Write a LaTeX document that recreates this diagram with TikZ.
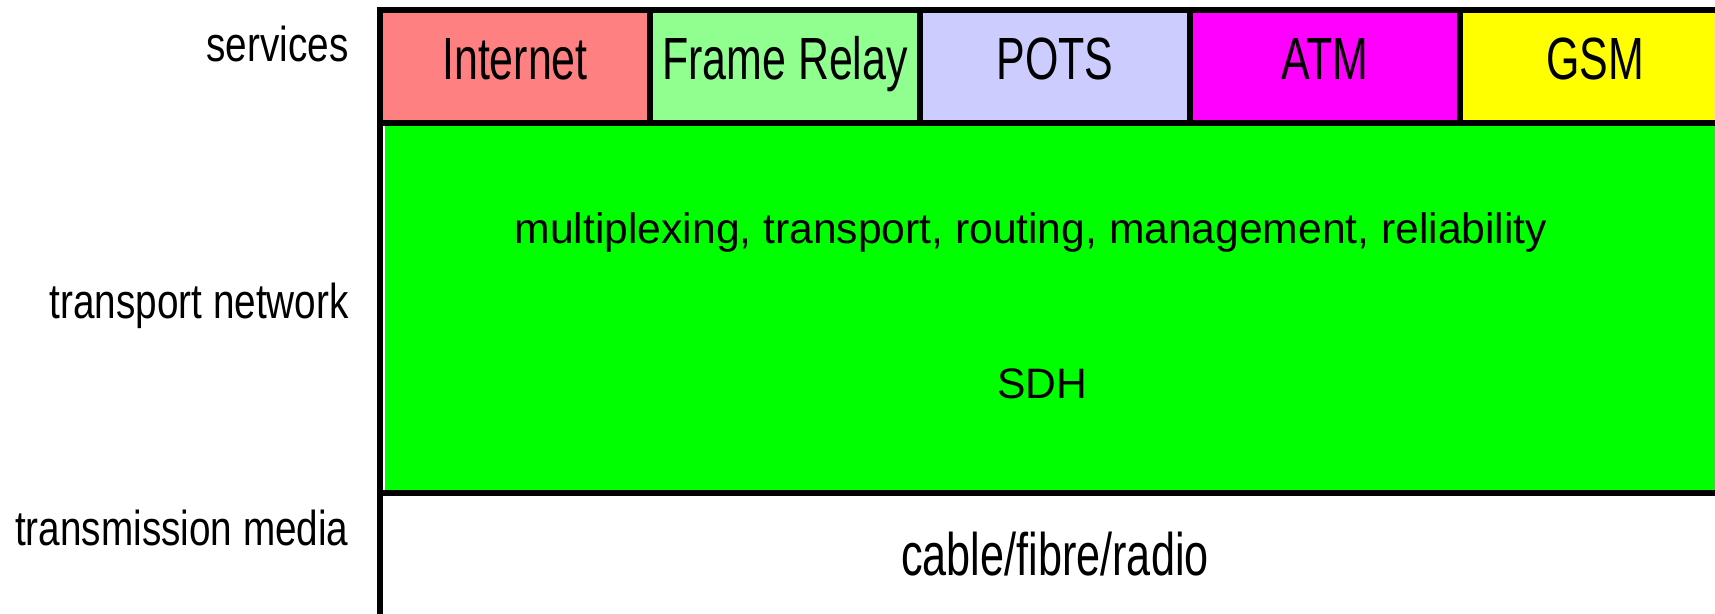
\documentclass[tikz,border=0pt]{standalone}
\usepackage{fontspec}
\setmainfont{Liberation Sans}
\newfontfamily\svcfont[FakeStretch=0.72]{Liberation Sans}
\newfontfamily\lblfont[FakeStretch=0.79]{Liberation Sans}
\definecolor{cinternet}{HTML}{FF8080}
\definecolor{cframe}{HTML}{90FF90}
\definecolor{cpots}{HTML}{CCCCFF}
\definecolor{catm}{HTML}{FF00FF}
\definecolor{cgsm}{HTML}{FFFF00}
\definecolor{ctrans}{HTML}{00FF00}
\tikzset{
  border/.style={draw=black, line width=3pt},
  svclabel/.style={anchor=base, inner sep=0pt, font=\svcfont\fontsize{29.8}{32}\selectfont},
  layerlabel/.style={anchor=base east, inner sep=0pt, font=\lblfont\fontsize{24.5}{28}\selectfont},
  greentext/.style={anchor=base, inner sep=0pt, font=\fontsize{21.3}{24}\selectfont},
  mediatext/.style={anchor=base, inner sep=0pt, font=\svcfont\fontsize{30}{34}\selectfont}
}
\begin{document}
\begin{tikzpicture}[x=0.5pt, y=-0.5pt]
\useasboundingbox (0,0) rectangle (1715,614);
\begin{scope}
\clip (0,0) rectangle (1715,614);
% fills
\fill[cinternet] (380,9.7) rectangle (649.7,122.7);
\fill[cframe] (649.7,9.7) rectangle (919.7,122.7);
\fill[cpots] (919.7,9.7) rectangle (1190,122.7);
\fill[catm] (1190,9.7) rectangle (1460,122.7);
\fill[cgsm] (1460,9.7) rectangle (1730,122.7);
\fill[ctrans] (385,126) rectangle (1730,490);
% borders
\coordinate (bl) at (380,620);
\coordinate (tl) at (380,9.7);
\coordinate (tr) at (1730,9.7);
\draw[border, line join=miter] (bl) -- (tl) -- (tr);
\coordinate (sl) at (377,122.7);
\coordinate (sr) at (1730,122.7);
\draw[border] (sl) -- (sr);
\coordinate (gl) at (377,493);
\coordinate (gr) at (1730,493);
\draw[border] (gl) -- (gr);
\foreach \x/\n in {649.7/a,919.7/b,1190/c,1460/d}{
  \coordinate (dt\n) at (\x,9.7);
  \coordinate (db\n) at (\x,122.7);
  \draw[border] (dt\n) -- (db\n);
}
\end{scope}
% service labels
\node[svclabel] (internet) at (515,80) {Internet};
\node[svclabel] (frame) at (785,80) {Frame Relay};
\node[svclabel] (pots) at (1055,80) {POTS};
\node[svclabel] (atm) at (1325,80) {ATM};
\node[svclabel] (gsm) at (1595,80) {GSM};
% green texts
\node[greentext] (funcs) at (1031,244) {multiplexing, transport, routing, management, reliability};
\node[greentext] (sdh) at (1042,399) {SDH};
% media
\node[mediatext] (media) at (1055,576) {cable/fibre/radio};
% left labels
\node[layerlabel] (lservices) at (349,62) {services};
\node[layerlabel] (ltransport) at (349,319) {transport network};
\node[layerlabel] (lmedia) at (349,546) {transmission media};
\end{tikzpicture}
\end{document}
